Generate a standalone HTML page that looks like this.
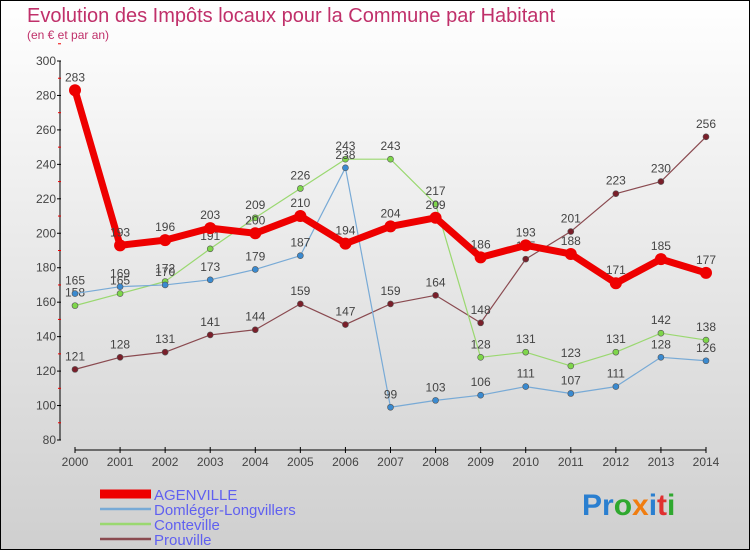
<!DOCTYPE html>
<html><head><meta charset="utf-8">
<style>
html,body{margin:0;padding:0}
body{width:750px;height:550px;overflow:hidden;font-family:"Liberation Sans",sans-serif}
svg{display:block}
</style></head>
<body>
<svg id="c" width="750" height="550" xmlns="http://www.w3.org/2000/svg">
<defs><linearGradient id="bg" x1="0" y1="0" x2="0" y2="1"><stop offset="0" stop-color="#ffffff"/><stop offset="1" stop-color="#cfcfcf"/></linearGradient></defs>
<rect x="0.5" y="0.5" width="749" height="549" fill="url(#bg)" stroke="#000"/>
<text x="27" y="22" font-size="20" fill="#c0306a">Evolution des Impôts locaux pour la Commune par Habitant</text>
<text x="27" y="39" font-size="12" fill="#c0306a">(en € et par an)</text>
<g id="axes"></g>
<g id="series"></g>
<g id="legend"></g>
<text x="582" y="515" font-size="30" font-weight="bold"><tspan fill="#2a7fd0">Pr</tspan><tspan fill="#2fa82f">o</tspan><tspan fill="#f07d10">x</tspan><tspan fill="#2a7fd0">i</tspan><tspan fill="#e03030">t</tspan><tspan fill="#2fa82f">i</tspan></text>
</svg>
<script>
const years=[2000,2001,2002,2003,2004,2005,2006,2007,2008,2009,2010,2011,2012,2013,2014];
const yTicks=[80,100,120,140,160,180,200,220,240,260,280,300];
const agenville=[283,193,196,203,200,210,194,204,209,186,193,188,171,185,177];
const domleger=[165,169,170,173,179,187,238,99,103,106,111,107,111,128,126];
const conteville=[158,165,172,191,209,226,243,243,217,128,131,123,131,142,138];
const prouville=[121,128,131,141,144,159,147,159,164,148,185,201,223,230,256];
const names=["AGENVILLE","Domléger-Longvillers","Conteville","Prouville"];

const NS="http://www.w3.org/2000/svg";
const X0=75,X1=706,Y0=440,Y1=61,VMIN=80,VMAX=300;
const x=i=>X0+(X1-X0)*i/(years.length-1);
const y=v=>Y0-(v-VMIN)*(Y0-Y1)/(VMAX-VMIN);
function mk(tag,attrs,parent){const e=document.createElementNS(NS,tag);for(const k in attrs)e.setAttribute(k,attrs[k]);parent.appendChild(e);return e;}
const axes=document.getElementById('axes');
let a=mk('line',{x1:60,y1:y(VMAX),x2:60,y2:Y0,stroke:'#000'},axes);


yTicks.forEach(v=>{
 const l=mk('line',{x1:57,x2:61,y1:y(v),y2:y(v),stroke:'#000'},axes);
 
 
 const m=mk('line',{x1:58,x2:61,y1:y(v+10),y2:y(v+10),stroke:'#e00'},axes);
 
 
 const t=mk('text',{x:56,y:y(v)+4,'text-anchor':'end','font-size':12,fill:'#444'},axes);
 t.textContent=v;
 
 
});
a=mk('line',{x1:X0,x2:X1,y1:450,y2:450,stroke:'#000'},axes);


years.forEach((yr,i)=>{
 const l=mk('line',{x1:x(i),x2:x(i),y1:447,y2:453,stroke:'#000'},axes);
 
 
 const t=mk('text',{x:x(i),y:466,'text-anchor':'middle','font-size':12,fill:'#444'},axes);
 t.textContent=yr;
 
 
});
const ser=document.getElementById('series');
const defs=[
 {d:prouville,c:'#7a1f2a',lc:'#8a4a50',w:1.2,r:3,n:'prouville'},
 {d:conteville,c:'#7ed64a',lc:'#9ad870',w:1.2,r:3,n:'conteville'},
 {d:domleger,c:'#3a8ad0',lc:'#78aad6',w:1.2,r:3,n:'domleger-longvillers'},
 {d:agenville,c:'#ee0000',lc:'#ee0000',w:7,r:6,n:'agenville'}
];
defs.forEach(s=>{
 const g=mk('g',{},ser);
 
 
 const p=mk('polyline',{points:s.d.map((v,i)=>x(i)+','+y(v)).join(' '),fill:'none',stroke:s.lc,'stroke-width':s.w,'stroke-linejoin':'round'},g);
 
 
 s.d.forEach((v,i)=>{
  const c=mk('circle',{cx:x(i),cy:y(v),r:s.r,fill:s.c,stroke:s.r>3?'none':'#555','stroke-width':0.6},g);
  
  
  const t=mk('text',{x:x(i),y:y(v)-9,'text-anchor':'middle','font-size':12,fill:'#444'},g);
  t.textContent=v;
  
  
 });
});
const lg=document.getElementById('legend');
const lc=['#ee0000','#78aad6','#9ad870','#8a4a50'],lw=[9,2.5,2.5,2.5];
names.forEach((n,i)=>{
 const yy=493+i*15;
 const l=mk('line',{x1:100,x2:151,y1:yy+1,y2:yy+1,stroke:lc[i],'stroke-width':lw[i]},lg);
 
 
 const t=mk('text',{x:154,y:yy+7,'font-size':15,fill:'#6060f0'},lg);
 t.textContent=n;
 
 
});
</script>
</body></html>
